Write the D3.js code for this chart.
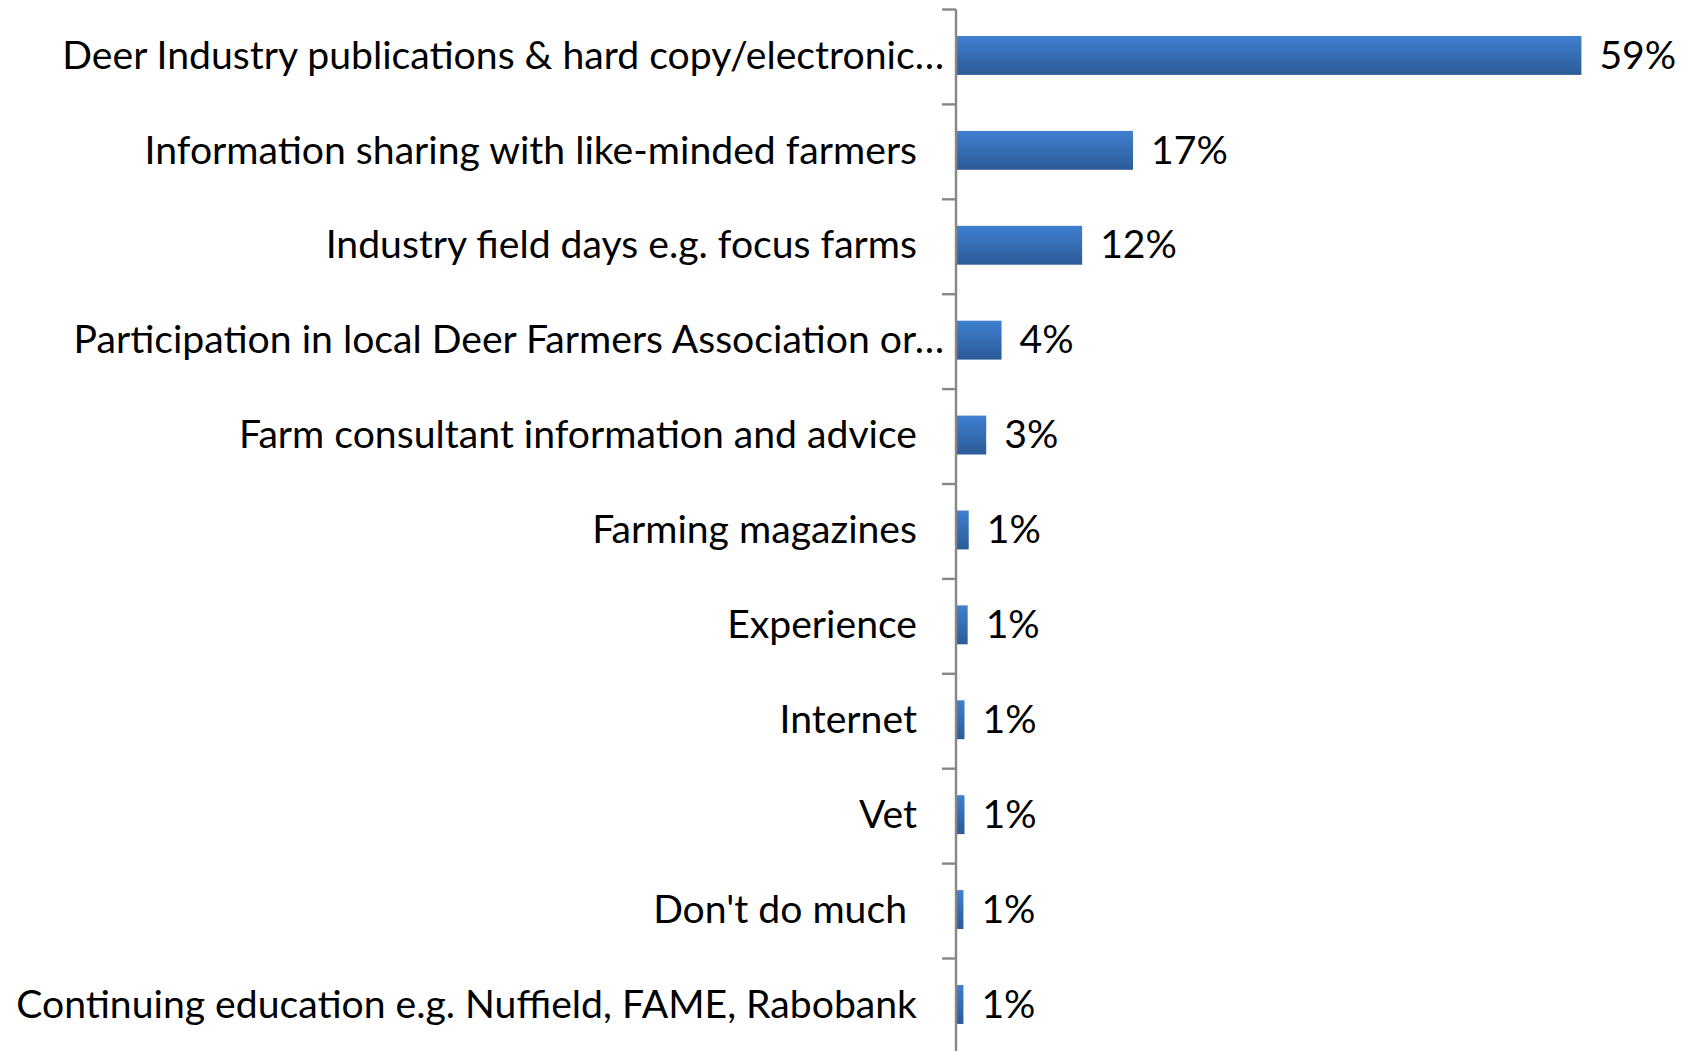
<!DOCTYPE html>
<html>
<head>
<meta charset="utf-8">
<script src="https://cdn.jsdelivr.net/npm/d3@7"></script>
<style>
  html, body { margin: 0; padding: 0; background: #fff; }
  svg { display: block; }
  text { font-family: Lato, "Open Sans", sans-serif; fill: #000; }
</style>
</head>
<body>
<svg id="chart" width="1682" height="1051"></svg>
<script>
const categories = [
  "Deer Industry publications & hard copy/electronic\u2026",
  "Information sharing with like-minded farmers",
  "Industry field days e.g. focus farms",
  "Participation in local Deer Farmers Association or\u2026",
  "Farm consultant information and advice",
  "Farming magazines",
  "Experience",
  "Internet",
  "Vet",
  "Don't do much\u00a0",
  "Continuing education e.g. Nuffield, FAME, Rabobank"
];
const values = [59.0, 16.7, 11.9, 4.3, 2.85, 1.2, 1.1, 0.8, 0.8, 0.7, 0.7];
const valueLabels = ["59%", "17%", "12%", "4%", "3%", "1%", "1%", "1%", "1%", "1%", "1%"];

const W = 1682, H = 1051;
const svg = d3.select("#chart");

const axisX = 956;
const y = d3.scaleBand()
  .domain(categories)
  .range([9.5, 9.5 + 11 * 94.9])
  .paddingInner(0.59)
  .paddingOuter(0.295);

const x = d3.scaleLinear().domain([0, 60]).range([axisX, axisX + 636]);

// gradient
const defs = svg.append("defs");
const grad = defs.append("linearGradient").attr("id", "barGrad")
  .attr("x1", 0).attr("y1", 0).attr("x2", 0).attr("y2", 1);
grad.append("stop").attr("offset", "0%").attr("stop-color", "#3f80d0");
grad.append("stop").attr("offset", "100%").attr("stop-color", "#2c5b98");

// determine font size so the longest full label matches the reference width
const probe = svg.append("text").style("font-size", "36px")
  .text("Continuing education e.g. Nuffield, FAME, Rabobank");
const w36 = probe.node().getComputedTextLength();
probe.remove();
const fontSize = 36 * 901 / w36;

// bars
svg.append("g").selectAll("rect")
  .data(categories)
  .join("rect")
  .attr("x", axisX)
  .attr("y", d => y(d) - 1.5)
  .attr("width", (d, i) => x(values[i]) - axisX)
  .attr("height", y.bandwidth())
  .attr("fill", "url(#barGrad)");

// axis
const step = y.step();
const tickYs = d3.range(categories.length + 1).map(i => y.range()[0] + i * step);
const ax = svg.append("g");
ax.append("line")
  .attr("x1", axisX).attr("x2", axisX)
  .attr("y1", y.range()[0]).attr("y2", H + 5)
  .attr("stroke", "#878787").attr("stroke-width", 2.4);
ax.selectAll("line.tick").data(tickYs).join("line")
  .attr("class", "tick")
  .attr("x1", axisX - 14).attr("x2", axisX)
  .attr("y1", d => d).attr("y2", d => d)
  .attr("stroke", "#878787").attr("stroke-width", 2.4);

// category labels
svg.append("g").selectAll("text")
  .data(categories)
  .join("text")
  .attr("x", d => d.endsWith("\u2026") ? axisX - 12 : axisX - 39)
  .attr("y", d => y(d) + y.bandwidth() / 2)
  .attr("dy", "0.3em")
  .attr("text-anchor", "end")
  .style("font-size", fontSize + "px")
  .style("white-space", "pre")
  .text(d => d);

// value labels
svg.append("g").selectAll("text")
  .data(categories)
  .join("text")
  .attr("x", (d, i) => x(values[i]) + 18)
  .attr("y", d => y(d) + y.bandwidth() / 2)
  .attr("dy", "0.3em")
  .style("font-size", fontSize + "px")
  .text((d, i) => valueLabels[i]);
</script>
</body>
</html>
